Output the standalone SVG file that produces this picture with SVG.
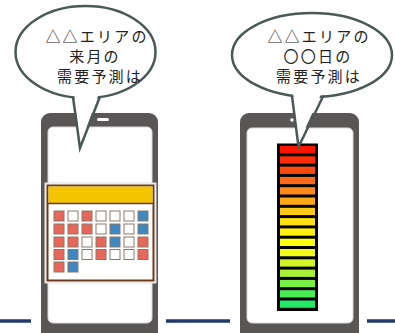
<svg xmlns="http://www.w3.org/2000/svg" width="395" height="333" viewBox="0 0 395 333">
  <style>
    .phone { fill: #5a5656; }
    .screen { fill: #ffffff; stroke: #d8d8d8; stroke-width: 1; }
    .bubble { fill: #ffffff; stroke: #4a5858; stroke-width: 2.5; }
    .tail { fill: none; stroke: #4a5858; stroke-width: 2.5; stroke-linejoin: miter; }
    .label { font-family: "Noto Sans CJK JP", "Noto Sans", sans-serif; font-size: 15px; letter-spacing: 2.2px; fill: #222222; text-anchor: middle; }
    .rule { stroke: #1f3a6b; stroke-width: 3.5; }
    .cell { stroke: #8a7868; stroke-width: 1; }
    .r { fill: #e8675a; }
    .b { fill: #3f87c0; }
    .w { fill: #ffffff; }
  </style>

  <rect width="395" height="333" fill="#ffffff"/>

  <!-- baseline rules -->
  <g id="rules">
    <line class="rule" x1="0" y1="321" x2="31" y2="321"/>
    <line class="rule" x1="166" y1="321" x2="230" y2="321"/>
    <line class="rule" x1="367" y1="321" x2="395" y2="321"/>
  </g>

  <!-- left phone with calendar -->
  <g id="phone-calendar">
    <rect class="phone" x="41" y="113" width="117" height="235" rx="9"/>
    <rect class="screen" x="48" y="127" width="104" height="196" rx="5"/>
    <rect x="97" y="118" width="12" height="3" rx="1.5" fill="#ffffff"/>
    <!-- calendar -->
    <rect x="45" y="183" width="111" height="100" fill="#ffffff" stroke="#dddddd" stroke-width="1"/>
    <rect x="47.5" y="185.5" width="106" height="95" fill="#ffffff" stroke="#6b3a1a" stroke-width="2"/>
    <rect x="48.5" y="186.5" width="104" height="16.5" fill="#f5c400"/>
    <line x1="48" y1="203.5" x2="153" y2="203.5" stroke="#6b3a1a" stroke-width="1.5"/>
    <g id="calendar-days">
      <rect class="cell r" x="54" y="211" width="10" height="10"/>
      <rect class="cell w" x="68" y="211" width="10" height="10"/>
      <rect class="cell r" x="82" y="211" width="10" height="10"/>
      <rect class="cell w" x="96" y="211" width="10" height="10"/>
      <rect class="cell w" x="110" y="211" width="10" height="10"/>
      <rect class="cell w" x="124" y="211" width="10" height="10"/>
      <rect class="cell b" x="138" y="211" width="10" height="10"/>

      <rect class="cell r" x="54" y="224" width="10" height="10"/>
      <rect class="cell r" x="68" y="224" width="10" height="10"/>
      <rect class="cell r" x="82" y="224" width="10" height="10"/>
      <rect class="cell w" x="96" y="224" width="10" height="10"/>
      <rect class="cell b" x="110" y="224" width="10" height="10"/>
      <rect class="cell w" x="124" y="224" width="10" height="10"/>
      <rect class="cell b" x="138" y="224" width="10" height="10"/>

      <rect class="cell r" x="54" y="237" width="10" height="10"/>
      <rect class="cell r" x="68" y="237" width="10" height="10"/>
      <rect class="cell w" x="82" y="237" width="10" height="10"/>
      <rect class="cell r" x="96" y="237" width="10" height="10"/>
      <rect class="cell b" x="110" y="237" width="10" height="10"/>
      <rect class="cell w" x="124" y="237" width="10" height="10"/>
      <rect class="cell r" x="138" y="237" width="10" height="10"/>

      <rect class="cell r" x="54" y="249.5" width="10" height="10"/>
      <rect class="cell b" x="68" y="249.5" width="10" height="10"/>
      <rect class="cell w" x="82" y="249.5" width="10" height="10"/>
      <rect class="cell r" x="96" y="249.5" width="10" height="10"/>
      <rect class="cell w" x="110" y="249.5" width="10" height="10"/>
      <rect class="cell w" x="124" y="249.5" width="10" height="10"/>
      <rect class="cell r" x="138" y="249.5" width="10" height="10"/>

      <rect class="cell r" x="54" y="262" width="10" height="10"/>
      <rect class="cell b" x="68" y="262" width="10" height="10"/>
    </g>
  </g>

  <!-- right phone with level meter -->
  <g id="phone-meter">
    <rect class="phone" x="240" y="113" width="119" height="235" rx="9"/>
    <rect class="screen" x="247" y="128" width="106" height="195" rx="5"/>
    <circle cx="292" cy="120" r="1.8" fill="#ffffff"/>
    <rect x="277" y="143.5" width="41" height="167.5" fill="#000000"/>
    <g id="meter-bars">
      <rect x="280" y="146" width="35" height="7.3" fill="#ff1400"/>
      <rect x="280" y="156.3" width="35" height="7.3" fill="#ff2e08"/>
      <rect x="280" y="166.6" width="35" height="7.3" fill="#ff4a10"/>
      <rect x="280" y="176.9" width="35" height="7.3" fill="#ff6818"/>
      <rect x="280" y="187.2" width="35" height="7.3" fill="#ff8a1c"/>
      <rect x="280" y="197.5" width="35" height="7.3" fill="#ffa818"/>
      <rect x="280" y="207.8" width="35" height="7.3" fill="#ffc814"/>
      <rect x="280" y="218.1" width="35" height="7.3" fill="#ffe010"/>
      <rect x="280" y="228.4" width="35" height="7.3" fill="#fff010"/>
      <rect x="280" y="238.7" width="35" height="7.3" fill="#ffff10"/>
      <rect x="280" y="249" width="35" height="7.3" fill="#f2fa18"/>
      <rect x="280" y="259.3" width="35" height="7.3" fill="#d0f628"/>
      <rect x="280" y="269.6" width="35" height="7.3" fill="#a8f238"/>
      <rect x="280" y="279.9" width="35" height="7.3" fill="#78f048"/>
      <rect x="280" y="290.2" width="35" height="7.3" fill="#48ee54"/>
      <rect x="280" y="300.5" width="35" height="7.3" fill="#22e868"/>
    </g>
  </g>

  <!-- speech bubble: monthly forecast -->
  <g id="bubble-month">
    <ellipse class="bubble" cx="85.5" cy="52" rx="70" ry="46"/>
    <polygon points="74,93 80,146 99,93" fill="#ffffff"/>
    <polyline class="tail" points="73,97 80,148 100,96.5"/>
    <text class="label" x="97" y="42">△△エリアの</text>
    <text class="label" x="95" y="62">来月の</text>
    <text class="label" x="100" y="82">需要予測は</text>
  </g>

  <!-- speech bubble: daily forecast -->
  <g id="bubble-day">
    <ellipse class="bubble" cx="312" cy="55" rx="80" ry="42"/>
    <polygon points="293,92 298,144 322,92" fill="#ffffff"/>
    <polyline class="tail" points="292,96 298.5,147 323.5,95.5"/>
    <text class="label" x="319" y="42">△△エリアの</text>
    <text class="label" x="318" y="62">〇〇日の</text>
    <text class="label" x="319" y="82">需要予測は</text>
  </g>
</svg>
